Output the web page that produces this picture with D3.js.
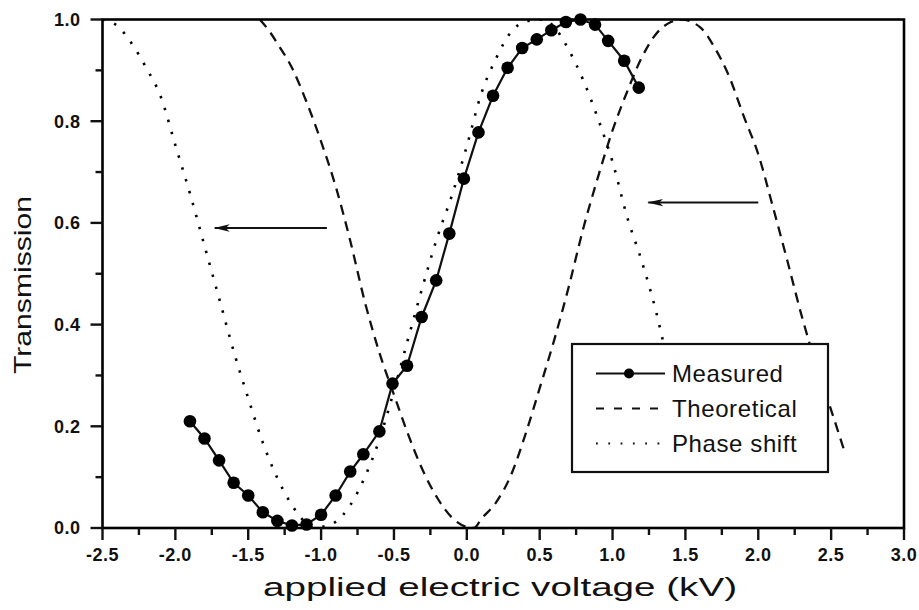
<!DOCTYPE html>
<html>
<head>
<meta charset="utf-8">
<script src="https://cdn.jsdelivr.net/npm/d3@7"></script>
<style>
  body { margin: 0; background: #fff; }
  svg { display: block; }
</style>
</head>
<body>
<div id="the_chart"></div>
<script>
// measured transmission (kV, T)
var measuredV = [-1.90, -1.80, -1.70, -1.60, -1.50, -1.40, -1.30, -1.20, -1.10, -1.00,
                 -0.90, -0.80, -0.71, -0.60, -0.51, -0.41, -0.31, -0.21, -0.12, -0.02,
                  0.08,  0.18,  0.28,  0.38,  0.48,  0.58,  0.68,  0.78,  0.88,  0.97,
                  1.08,  1.18];
var measuredT = [0.210, 0.176, 0.133, 0.089, 0.064, 0.031, 0.014, 0.005, 0.007, 0.026,
                 0.064, 0.111, 0.145, 0.190, 0.284, 0.319, 0.415, 0.487, 0.579, 0.687,
                 0.778, 0.850, 0.905, 0.944, 0.961, 0.979, 0.995, 1.000, 0.990, 0.958,
                 0.919, 0.866];

// theoretical curve (dashed)
var theoV = [-1.42, -1.35, -1.30, -1.20, -1.10, -1.00, -0.90, -0.80, -0.70, -0.60,
             -0.50, -0.40, -0.30, -0.20, -0.10, 0.00, 0.05, 0.10, 0.20, 0.30,
              0.40, 0.50, 0.60, 0.70, 0.80, 0.90, 1.00, 1.10, 1.20, 1.30,
              1.40, 1.47, 1.60, 1.70, 1.80, 1.90, 2.00, 2.10, 2.20, 2.30,
              2.40, 2.50, 2.59];
var theoT = [1.000, 0.975, 0.953, 0.905, 0.838, 0.760, 0.672, 0.565, 0.445, 0.345,
             0.262, 0.182, 0.112, 0.058, 0.020, 0.002, 0.000, 0.018, 0.050, 0.102,
             0.182, 0.275, 0.370, 0.475, 0.590, 0.690, 0.782, 0.858, 0.925, 0.972,
             0.995, 1.000, 0.985, 0.945, 0.888, 0.810, 0.735, 0.632, 0.525, 0.415,
             0.318, 0.232, 0.152];

// phase shift curve (dotted)
var phaseV = [-2.50, -2.40, -2.30, -2.20, -2.10, -2.00, -1.90, -1.80, -1.70, -1.60,
              -1.50, -1.40, -1.30, -1.20, -1.10, -1.05, -1.00, -0.90, -0.80, -0.70,
              -0.60, -0.50, -0.40, -0.30, -0.20, -0.10, 0.00, 0.10, 0.20, 0.30,
               0.40, 0.53, 0.60, 0.70, 0.80, 0.90, 1.00, 1.10, 1.20, 1.30, 1.36];
var phaseT = [1.000, 0.988, 0.953, 0.905, 0.848, 0.753, 0.658, 0.555, 0.452, 0.348,
              0.255, 0.168, 0.098, 0.045, 0.009, 0.000, 0.002, 0.012, 0.045, 0.100,
              0.174, 0.270, 0.375, 0.478, 0.574, 0.656, 0.751, 0.855, 0.923, 0.974,
              0.996, 1.000, 0.985, 0.940, 0.880, 0.805, 0.720, 0.612, 0.525, 0.424, 0.350];

// annotation arrows: from x1 to x2 at height y
var arrowFrom = [-0.96, 2.00];
var arrowTo   = [-1.73, 1.245];
var arrowY    = [0.59, 0.64];

var xTicks = [-2.5, -2.0, -1.5, -1.0, -0.5, 0.0, 0.5, 1.0, 1.5, 2.0, 2.5, 3.0];
var xMinor = [-2.25, -1.75, -1.25, -0.75, -0.25, 0.25, 0.75, 1.25, 1.75, 2.25, 2.75];
var yTicks = [0.0, 0.2, 0.4, 0.6, 0.8, 1.0];
var yMinor = [0.1, 0.3, 0.5, 0.7, 0.9];

var legendNames = ["Measured", "Theoretical", "Phase shift"];

var width = 919, height = 610;
var margin = {top: 19.5, right: 15, bottom: 82, left: 102.5};
var font = "'Liberation Sans', Arial, Helvetica, sans-serif";

var svg = d3.select("#the_chart").append("svg")
  .attr("width", width)
  .attr("height", height);

var xscale = d3.scaleLinear().domain([-2.5, 3.0]).range([margin.left, width - margin.right]);
var yscale = d3.scaleLinear().domain([0, 1]).range([height - margin.bottom, margin.top]);

var defs = svg.append("defs");
defs.append("clipPath").attr("id", "plotclip")
  .append("rect")
  .attr("x", xscale(-2.5)).attr("y", yscale(1))
  .attr("width", xscale(3) - xscale(-2.5))
  .attr("height", yscale(0) - yscale(1));

defs.append("marker")
  .attr("id", "head")
  .attr("viewBox", "0 0 16 9")
  .attr("refX", 15).attr("refY", 4.5)
  .attr("markerWidth", 16).attr("markerHeight", 9)
  .attr("markerUnits", "userSpaceOnUse")
  .attr("orient", "auto")
  .append("path")
  .attr("d", "M0,0.8 L16,4.5 L0,8.2 L4,4.5 Z")
  .attr("fill", "#111");

// curves
var plot = svg.append("g").attr("clip-path", "url(#plotclip)");

var line = d3.line()
  .x(function(d) { return xscale(d[0]); })
  .y(function(d) { return yscale(d[1]); });

var theoData = theoV.map(function(v, i) { return [v, theoT[i]]; });
var phaseData = phaseV.map(function(v, i) { return [v, phaseT[i]]; });
var measData = measuredV.map(function(v, i) { return [v, measuredT[i]]; });

plot.append("path")
  .datum(theoData)
  .attr("d", line.curve(d3.curveMonotoneX))
  .attr("fill", "none")
  .attr("stroke", "#111")
  .attr("stroke-width", 2.3)
  .attr("stroke-dasharray", "10,7");

plot.append("path")
  .datum(phaseData)
  .attr("d", line.curve(d3.curveMonotoneX))
  .attr("fill", "none")
  .attr("stroke", "#000")
  .attr("stroke-width", 2.6)
  .attr("stroke-dasharray", "2.4,10");

plot.append("path")
  .datum(measData)
  .attr("d", line.curve(d3.curveLinear))
  .attr("fill", "none")
  .attr("stroke", "#111")
  .attr("stroke-width", 2.2);

svg.append("g").selectAll("circle")
  .data(measData)
  .enter()
  .append("circle")
  .attr("cx", function(d) { return xscale(d[0]); })
  .attr("cy", function(d) { return yscale(d[1]); })
  .attr("r", 6.3)
  .attr("fill", "#000");

// arrows
svg.append("g").selectAll("line")
  .data(arrowY)
  .enter()
  .append("line")
  .attr("x1", function(d, i) { return xscale(arrowFrom[i]); })
  .attr("x2", function(d, i) { return xscale(arrowTo[i]); })
  .attr("y1", function(d) { return yscale(d); })
  .attr("y2", function(d) { return yscale(d); })
  .attr("stroke", "#111")
  .attr("stroke-width", 2)
  .attr("marker-end", "url(#head)");

// frame
svg.append("rect")
  .attr("x", xscale(-2.5))
  .attr("y", yscale(1))
  .attr("width", xscale(3) - xscale(-2.5))
  .attr("height", yscale(0) - yscale(1))
  .attr("fill", "none")
  .attr("stroke", "#000")
  .attr("stroke-width", 2.6);

// ticks, outside on left and bottom
var y0 = yscale(0), x0 = xscale(-2.5);
var ticks = svg.append("g").attr("stroke", "#111").attr("stroke-width", 2.4);

ticks.selectAll("line.xmaj").data(xTicks).enter().append("line")
  .attr("class", "xmaj")
  .attr("x1", function(d) { return xscale(d); })
  .attr("x2", function(d) { return xscale(d); })
  .attr("y1", y0).attr("y2", y0 + 12);
ticks.selectAll("line.xmin").data(xMinor).enter().append("line")
  .attr("class", "xmin")
  .attr("x1", function(d) { return xscale(d); })
  .attr("x2", function(d) { return xscale(d); })
  .attr("y1", y0).attr("y2", y0 + 7);
ticks.selectAll("line.ymaj").data(yTicks).enter().append("line")
  .attr("class", "ymaj")
  .attr("y1", function(d) { return yscale(d); })
  .attr("y2", function(d) { return yscale(d); })
  .attr("x1", x0).attr("x2", x0 - 12);
ticks.selectAll("line.ymin").data(yMinor).enter().append("line")
  .attr("class", "ymin")
  .attr("y1", function(d) { return yscale(d); })
  .attr("y2", function(d) { return yscale(d); })
  .attr("x1", x0).attr("x2", x0 - 7);

var labels = svg.append("g")
  .attr("fill", "#111")
  .style("font-family", font)
  .style("font-weight", "bold")
  .style("font-size", "18px")
  .style("letter-spacing", "0.5px");

labels.selectAll("text.xl").data(xTicks).enter().append("text")
  .attr("class", "xl")
  .attr("x", function(d) { return xscale(d); })
  .attr("y", y0 + 33)
  .attr("text-anchor", "middle")
  .text(function(d) { return d.toFixed(1); });

labels.selectAll("text.yl").data(yTicks).enter().append("text")
  .attr("class", "yl")
  .attr("x", x0 - 22)
  .attr("y", function(d) { return yscale(d); })
  .attr("dy", "0.36em")
  .attr("text-anchor", "end")
  .text(function(d) { return d.toFixed(1); });

// legend
var legend = svg.append("g").attr("transform", "translate(572,344)");
legend.append("rect")
  .attr("width", 256).attr("height", 128)
  .attr("fill", "#fff")
  .attr("stroke", "#111")
  .attr("stroke-width", 2.2);

var rows = legend.selectAll("g.row")
  .data(legendNames)
  .enter()
  .append("g")
  .attr("class", "row")
  .attr("transform", function(d, i) { return "translate(0," + (29.5 + i * 35) + ")"; });

rows.append("line")
  .attr("x1", 24).attr("x2", 93)
  .attr("y1", 0).attr("y2", 0)
  .attr("stroke", "#111")
  .attr("stroke-width", function(d, i) { return i === 2 ? 1.8 : 2; })
  .attr("stroke-dasharray", function(d, i) { return i === 0 ? null : (i === 1 ? "8,10" : "1.8,10.5"); });

rows.filter(function(d, i) { return i === 0; })
  .append("circle")
  .attr("cx", 57).attr("cy", 0).attr("r", 5)
  .attr("fill", "#000");

rows.append("text")
  .attr("x", 100)
  .attr("y", 0)
  .attr("dy", "0.36em")
  .style("font-family", font)
  .style("font-size", "24px")
  .style("letter-spacing", "0.6px")
  .attr("fill", "#111")
  .text(function(d) { return d; });

// axis titles
svg.append("text")
  .attr("x", 500)
  .attr("y", 596)
  .attr("text-anchor", "middle")
  .attr("textLength", 474)
  .attr("lengthAdjust", "spacingAndGlyphs")
  .style("font-family", font)
  .style("font-size", "25px")
  .attr("fill", "#111")
  .text("applied electric voltage (kV)");

svg.append("text")
  .attr("transform", "translate(31,285) rotate(-90)")
  .attr("text-anchor", "middle")
  .attr("textLength", 178)
  .attr("lengthAdjust", "spacingAndGlyphs")
  .style("font-family", font)
  .style("font-size", "24px")
  .attr("fill", "#111")
  .text("Transmission");
</script>
</body>
</html>
